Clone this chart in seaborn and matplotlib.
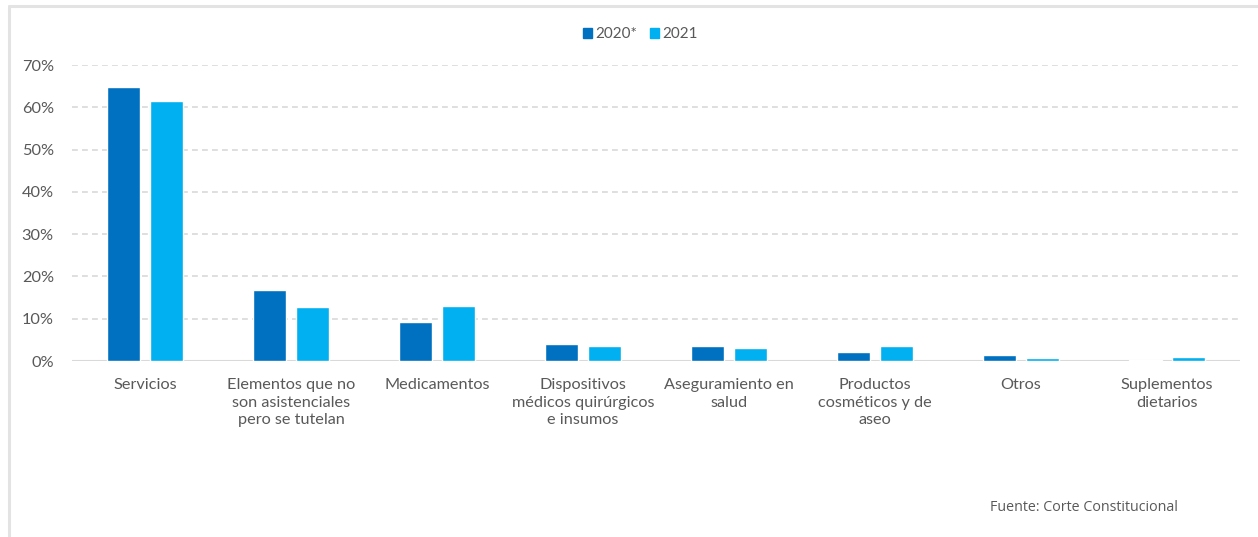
import matplotlib
matplotlib.use("Agg")
import matplotlib.pyplot as plt
from matplotlib.lines import Line2D
from matplotlib.patches import Rectangle
import seaborn as sns
import pandas as pd

categories = [
    "Servicios",
    "Elementos que no\nson asistenciales\npero se tutelan",
    "Medicamentos",
    "Dispositivos\nmédicos quirúrgicos\ne insumos",
    "Aseguramiento en\nsalud",
    "Productos\ncosméticos y de\naseo",
    "Otros",
    "Suplementos\ndietarios",
]
series_names = ["2020*", "2021"]
values_2020 = [64.8, 16.8, 9.2, 4.0, 3.6, 2.2, 1.4, 0.2]
values_2021 = [61.5, 12.8, 13.0, 3.6, 3.0, 3.6, 0.8, 0.9]
y_ticks = [0, 10, 20, 30, 40, 50, 60, 70]
source_text = "Fuente: Corte Constitucional"

df = pd.DataFrame({
    "categoria": categories * 2,
    "serie": [series_names[0]] * len(categories) + [series_names[1]] * len(categories),
    "valor": values_2020 + values_2021,
})

sns.set_theme(style="white")
plt.rcParams["font.family"] = ["Lato", "DejaVu Sans"]
text_color = "#595959"
palette = {"2020*": "#0070C0", "2021": "#00B0F0"}

fig = plt.figure(figsize=(12.58, 5.37), dpi=100)
fig.patch.set_facecolor("white")

# light frame along top and left edges
fig.add_artist(Line2D([0.0068, 1.0], [0.9885, 0.9885], transform=fig.transFigure,
                      color="#e3e3e3", lw=2.2))
fig.add_artist(Line2D([0.0068, 0.0068], [0.0, 0.9885], transform=fig.transFigure,
                      color="#e3e3e3", lw=2.2))

ax = fig.add_axes([0.0572, 0.3277, 0.9285, 0.5512])
sns.barplot(data=df, x="categoria", y="valor", hue="serie", order=categories,
            hue_order=series_names, palette=palette, width=0.59, gap=0.23,
            saturation=1, legend=False, ax=ax, zorder=2)

ax.set_ylim(0, 70)
ax.set_xlim(-0.5, len(categories) - 0.5)
ax.set_yticks(y_ticks)
ax.set_yticklabels([f"{t}%" for t in y_ticks])
for t in y_ticks[1:]:
    ax.axhline(t, color="#d9d9d9", lw=1.2, ls=(0, (3.5, 2.5)), zorder=0)
ax.axhline(0, color="#d9d9d9", lw=1.5, zorder=1)

for s in ax.spines.values():
    s.set_visible(False)
ax.set_xlabel("")
ax.set_ylabel("")
ax.tick_params(axis="y", length=0, pad=13, labelsize=11.8, labelcolor=text_color)
ax.tick_params(axis="x", length=0, pad=12.5, labelsize=11.7, labelcolor=text_color)
for lbl in ax.get_xticklabels():
    lbl.set_linespacing(1.3)
    lbl.set_verticalalignment("top")

# legend
handles = [Rectangle((0, 0), 1, 1, color=palette[n]) for n in series_names]
fig.legend(handles, series_names, loc="center", bbox_to_anchor=(0.509, 0.936),
           ncol=2, frameon=False, fontsize=11, labelcolor=text_color,
           handlelength=0.6, handleheight=0.6, handletextpad=0.25, columnspacing=0.8)

fig.text(0.787, 0.055, source_text, fontsize=10.3, color=text_color,
         family=["Open Sans", "DejaVu Sans"], va="center", ha="left")

fig.savefig("out.png", dpi=100, facecolor="white")
